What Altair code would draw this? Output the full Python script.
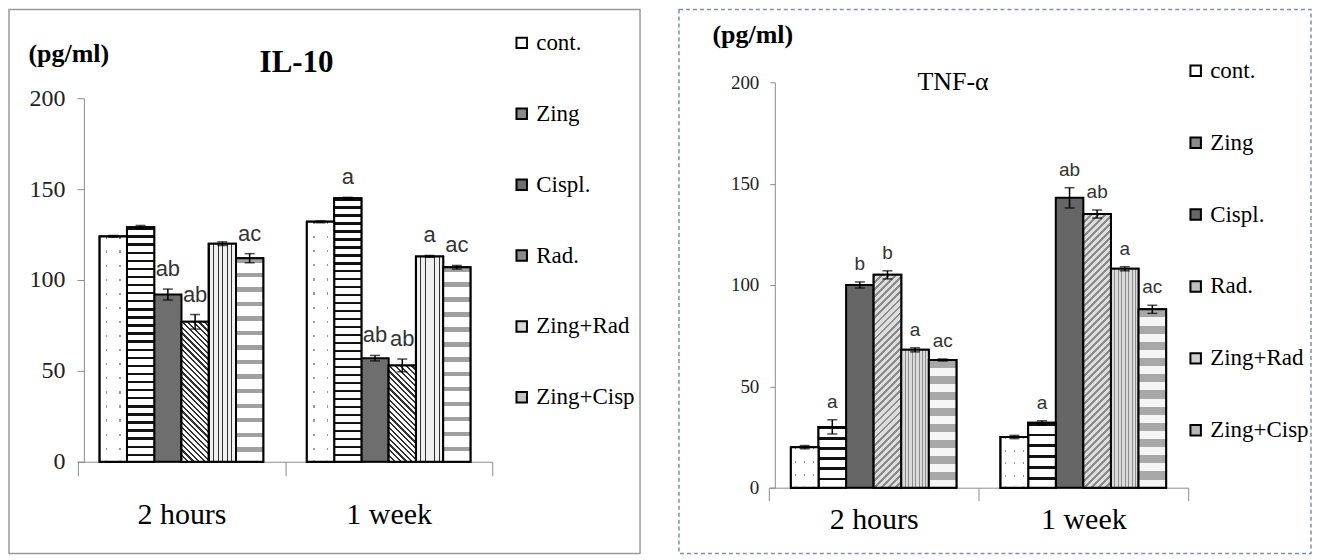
import altair as alt
import pandas as pd

times = ["2 hours", "1 week"]
series = ["cont.", "Zing", "Cispl.", "Rad.", "Zing+Rad", "Zing+Cisp"]

il10_2h = [124, 129, 92, 77, 120, 112]
il10_1w = [132, 145, 57, 53, 113, 107]
il10_err_2h = [0.5, 1.0, 3.0, 4.0, 1.0, 2.5]
il10_err_1w = [0.5, 0.5, 1.5, 3.5, 0.5, 1.0]
il10_sig_2h = ["", "", "ab", "ab", "", "ac"]
il10_sig_1w = ["", "a", "ab", "ab", "a", "ac"]

tnf_2h = [20, 30, 100, 105, 68, 63]
tnf_1w = [25, 32, 143, 135, 108, 88]
tnf_err_2h = [0.8, 3.5, 1.5, 2.0, 1.0, 0.5]
tnf_err_1w = [0.8, 1.0, 5.0, 2.0, 1.0, 2.0]
tnf_sig_2h = ["", "a", "b", "b", "a", "ac"]
tnf_sig_1w = ["", "a", "ab", "ab", "a", "ac"]

y_ticks = [0, 50, 100, 150, 200]


def make_df(v2h, v1w, e2h, e1w, s2h, s1w):
    rows = []
    for t, vals, errs, sigs in [(times[0], v2h, e2h, s2h), (times[1], v1w, e1w, s1w)]:
        for s, v, e, g in zip(series, vals, errs, sigs):
            rows.append({"time": t, "series": s, "value": v, "lo": v - e, "hi": v + e, "sig": g})
    return pd.DataFrame(rows)


CLEAR = "rgba(255,255,255,0)"


def band_stops(n, frac, fg, bg):
    stops = []
    for i in range(n):
        a = i / n
        b = (i + frac) / n
        c = (i + 1) / n
        stops += [{"offset": a, "color": fg}, {"offset": b, "color": fg},
                  {"offset": b, "color": bg}, {"offset": c, "color": bg}]
    return stops


def hstripes(h_px, spacing, frac, fg, bg):
    n = max(1, round(h_px / spacing))
    return {"gradient": "linear", "x1": 0, "y1": 0, "x2": 0, "y2": 1,
            "stops": band_stops(n, frac, fg, bg)}


def vstripes(n, frac, fg, bg):
    return {"gradient": "linear", "x1": 0, "y1": 0, "x2": 1, "y2": 0,
            "stops": band_stops(n, frac, fg, bg)}


def dot_columns(n, gap):
    # opaque white everywhere except narrow transparent columns centred in each 1/n slot
    stops = []
    for i in range(n):
        a, c = i / n, (i + 1) / n
        m1 = (i + 0.5 - gap / 2) / n
        m2 = (i + 0.5 + gap / 2) / n
        stops += [{"offset": a, "color": "white"}, {"offset": m1, "color": "white"},
                  {"offset": m1, "color": CLEAR}, {"offset": m2, "color": CLEAR},
                  {"offset": m2, "color": "white"}, {"offset": c, "color": "white"}]
    return {"gradient": "linear", "x1": 0, "y1": 0, "x2": 1, "y2": 0, "stops": stops}


def diag(w_px, h_px, spacing, frac, fg, bg, forward):
    r = h_px / w_px
    a = (1 + r) / (1 + r * r)
    n = max(1, round((w_px + h_px) / (2 ** 0.5 * spacing)))
    if forward:
        g = {"x1": 0, "y1": 0, "x2": a, "y2": a * r}
    else:
        g = {"x1": 0, "y1": 1, "x2": a, "y2": 1 - a * r}
    g.update({"gradient": "linear", "stops": band_stops(n, frac, fg, bg)})
    return g


def panel(df, vals2h, vals1w, cfg):
    W, H = cfg["W"], cfg["H"]
    y0, y200 = cfg["y_range"]
    ppu = (y0 - y200) / 200.0
    xr = cfg["x_range"]
    band = (xr[1] - xr[0]) / 2.0
    pad_o = 0.8
    w_bar = band / (6 + 2 * pad_o)

    xs = alt.Scale(domain=times, range=xr, paddingInner=0, paddingOuter=0)
    xaxis = alt.Axis(title=None, offset=-(H - y0), tickBand="extent", domainColor="#8c8c8c",
                     tickColor="#8c8c8c", tickSize=cfg["xtick"], labelFont="Liberation Serif",
                     labelFontSize=30, labelColor="black", labelPadding=cfg["xlabpad"], labelAngle=0)
    ys = alt.Scale(domain=[0, 200], range=[y0, y200], nice=False, zero=True)
    yaxis = alt.Axis(values=y_ticks, offset=-cfg["axis_x"], grid=False, domainColor="#8c8c8c",
                     tickColor="#8c8c8c", tickSize=cfg["ytick"], labelFont="Liberation Serif",
                     labelFontSize=cfg["ylabsize"], labelColor="#222", labelPadding=cfg["ylabpad"],
                     title="(pg/ml)", titleAngle=0, titleAlign="left", titleBaseline="middle",
                     titleX=cfg["ttx"], titleY=cfg["tty"], titleFont="Liberation Serif",
                     titleFontSize=26, titleFontWeight="bold", titleColor="black")
    xo = alt.XOffset("series:N", scale=alt.Scale(domain=series, paddingOuter=pad_o, paddingInner=0))

    def X():
        return alt.X("time:N", scale=xs, axis=xaxis, sort=times)

    def Y(f):
        return alt.Y(f"{f}:Q", scale=ys, axis=yaxis)

    base = alt.Chart(df)
    bars = base.mark_bar(stroke="black", strokeWidth=2).encode(
        x=X(), xOffset=xo, y=Y("value"),
        fill=alt.Fill("series:N", scale=alt.Scale(domain=series, range=cfg["legend_colors"]),
                      legend=alt.Legend(orient="none", legendX=cfg["legX"], legendY=cfg["legY"],
                                        title=None, symbolType="square", symbolSize=110,
                                        symbolStrokeColor="black", symbolStrokeWidth=2,
                                        labelFont="Liberation Serif", labelFontSize=23,
                                        labelColor="black", rowPadding=cfg["rowpad"],
                                        labelOffset=3, padding=0)),
    )

    layers = [bars]
    v2 = dict(zip(series, vals2h))
    v1 = dict(zip(series, vals1w))

    def overlay(s, fn, stroke=True):
        g2 = fn(w_bar, v2[s] * ppu)
        g1 = fn(w_bar, v1[s] * ppu)
        return base.transform_filter(alt.datum.series == s).mark_bar(
            stroke="black", strokeWidth=2).encode(
            x=X(), xOffset=xo, y=Y("value"),
            fill=alt.condition(alt.datum.time == times[0], alt.value(g2), alt.value(g1)),
        )

    for s, fn in cfg["patterns"].items():
        layers.append(overlay(s, fn))
    # dotted control bars: grey row lines masked by white columns leave dots
    layers.append(overlay("cont.", lambda w, h: hstripes(h, cfg["dot_step"], 0.16, "#9a9a9a", "white")))
    layers.append(overlay("cont.", lambda w, h: dot_columns(cfg["dot_cols"], 0.12)))

    rules = base.mark_rule(color="black", strokeWidth=1.5).encode(
        x=X(), xOffset=xo, y=Y("lo"), y2="hi")
    caps_hi = base.mark_tick(color="black", thickness=1.5, size=10).encode(x=X(), xOffset=xo, y=Y("hi"))
    caps_lo = base.mark_tick(color="black", thickness=1.5, size=10).encode(x=X(), xOffset=xo, y=Y("lo"))
    text = base.mark_text(font="Liberation Sans", fontSize=cfg["sigsize"], baseline="bottom",
                          dy=-8, color="#333").encode(x=X(), xOffset=xo, y=Y("hi"), text="sig:N")
    layers += [rules, caps_hi, caps_lo, text]

    return alt.layer(*layers).properties(
        width=W, height=H,
        view=alt.ViewBackground(**cfg["frame"]),
        title=alt.TitleParams(text=cfg["title"], font="Liberation Serif", fontSize=cfg["tsize"],
                              fontWeight=cfg["tweight"], anchor="middle", frame="group",
                              dx=cfg["tdx"], offset=cfg["toff"], color="black"),
    )


left_cfg = {
    "W": 632, "H": 545, "x_range": [69, 484], "y_range": [453, 89], "axis_x": 75,
    "xtick": 14, "xlabpad": 24, "ytick": 7, "ylabsize": 24, "ylabpad": 12,
    "ttx": -56, "tty": 44, "legX": 502, "legY": 22, "rowpad": 47, "sigsize": 22,
    "title": "IL-10", "tsize": 31, "tweight": "bold", "tdx": -28, "toff": -70,
    "dot_step": 14, "dot_cols": 2,
    "frame": {"stroke": "#9a9a9a", "strokeWidth": 1.5},
    "legend_colors": ["white", "#8a8a8a", "#6e6e6e", "#8c8c8c", "#d8d8d8", "#c4c4c4"],
    "patterns": {
        "Zing": lambda w, h: hstripes(h, 8, 0.3, "#111", "white"),
        "Rad.": lambda w, h: diag(w, h, 4, 0.4, "#333", "white", False),
        "Zing+Rad": lambda w, h: vstripes(6, 0.2, "#333", "#f0f0f0"),
        "Zing+Cisp": lambda w, h: hstripes(h, 15, 0.3, "#a0a0a0", "white"),
    },
}

right_cfg = {
    "W": 633, "H": 545, "x_range": [90, 510], "y_range": [479, 73], "axis_x": 96,
    "xtick": 13, "xlabpad": 4, "ytick": 5, "ylabsize": 19, "ylabpad": 11,
    "ttx": -63, "tty": 25, "legX": 506, "legY": 50, "rowpad": 48, "sigsize": 19,
    "title": "TNF-α", "tsize": 26, "tweight": "normal", "tdx": -42, "toff": -86,
    "dot_step": 12, "dot_cols": 3,
    "frame": {"stroke": "#7d8fb3", "strokeWidth": 1.5, "strokeDash": [4, 3]},
    "legend_colors": ["white", "#8a8a8a", "#666666", "#c0c0c0", "#d0d0d0", "#b8b8b8"],
    "patterns": {
        "Zing": lambda w, h: hstripes(h, 11, 0.25, "#111", "white"),
        "Rad.": lambda w, h: diag(w, h, 5, 0.4, "#8a8a8a", "#dedede", True),
        "Zing+Rad": lambda w, h: vstripes(8, 0.3, "#8f8f8f", "#dadada"),
        "Zing+Cisp": lambda w, h: hstripes(h, 17, 0.5, "#a8a8a8", "#f5f5f5"),
    },
}

df_il10 = make_df(il10_2h, il10_1w, il10_err_2h, il10_err_1w, il10_sig_2h, il10_sig_1w)
df_tnf = make_df(tnf_2h, tnf_1w, tnf_err_2h, tnf_err_1w, tnf_sig_2h, tnf_sig_1w)

left = panel(df_il10, il10_2h, il10_1w, left_cfg)
right = panel(df_tnf, tnf_2h, tnf_1w, right_cfg)

chart = (
    alt.hconcat(left, right, spacing=37)
    .resolve_scale(fill="independent", x="independent", y="independent", xOffset="independent")
    .resolve_legend(fill="independent")
    .properties(padding=0, background="white")
)

chart.save("out.html", embed_options={"renderer": "svg", "actions": False})
